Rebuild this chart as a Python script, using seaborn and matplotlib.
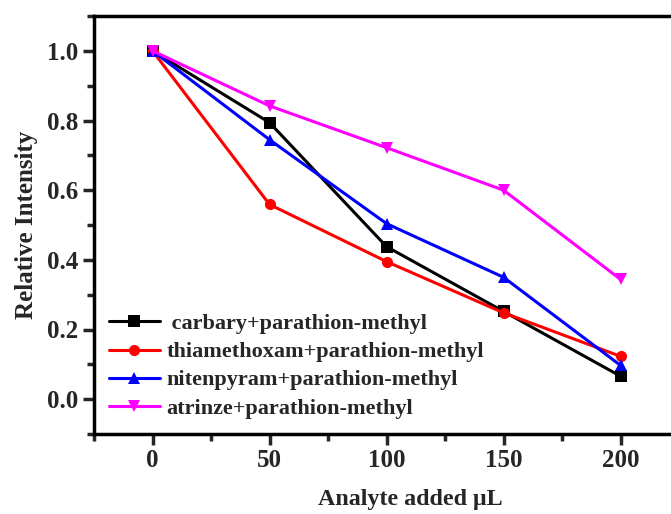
import matplotlib
matplotlib.use("Agg")
import matplotlib.pyplot as plt
import seaborn as sns
import pandas as pd
from matplotlib.ticker import MultipleLocator

x_vals = [0, 50, 100, 150, 200]
carbary = [1.0, 0.794, 0.438, 0.252, 0.066]
thiamethoxam = [1.0, 0.559, 0.395, 0.248, 0.123]
nitenpyram = [1.0, 0.745, 0.504, 0.35, 0.097]
atrinze = [1.0, 0.842, 0.722, 0.60, 0.344]
labels = [" carbary+parathion-methyl", "thiamethoxam+parathion-methyl",
          "nitenpyram+parathion-methyl", "atrinze+parathion-methyl"]
colors = ["#000000", "#ff0000", "#0000ff", "#ff00ff"]
markers = ["s", "o", "^", "v"]
ytick_vals = [0.0, 0.2, 0.4, 0.6, 0.8, 1.0]
ytick_labels = ["0.0", "0.2", "0.4", "0.6", "0.8", "1.0"]

sns.set_theme(style="white")
plt.rcParams['font.family'] = ['Liberation Serif', 'DejaVu Serif']
plt.rcParams['font.weight'] = 'bold'

rows = []
for lab, ys in zip(labels, [carbary, thiamethoxam, nitenpyram, atrinze]):
    for xv, yv in zip(x_vals, ys):
        rows.append({"x": xv, "y": yv, "series": lab})
df = pd.DataFrame(rows)

fig = plt.figure(figsize=(6.71, 5.14), dpi=100)
ax = fig.add_axes([94/671, 80/514, 585/671, 418/514])
sns.lineplot(data=df, x="x", y="y", hue="series", style="series",
             hue_order=labels, style_order=labels,
             palette=colors, markers=markers, dashes=False,
             linewidth=2.2, markersize=8, markeredgewidth=0, ax=ax)

ax.set_xlim(-25, 225)
ax.set_ylim(-0.1, 1.1)
ax.xaxis.set_major_locator(MultipleLocator(50))
ax.xaxis.set_minor_locator(MultipleLocator(25))
ax.yaxis.set_minor_locator(MultipleLocator(0.1))
ax.set_yticks(ytick_vals)
ax.set_yticklabels(ytick_labels)
ax.tick_params(axis='both', which='major', direction='out', length=8, width=2.5,
               labelsize=18, left=True, bottom=True, pad=3)
ax.tick_params(axis='both', which='minor', direction='out', length=5, width=2.5,
               left=True, bottom=True)
for lbl in ax.get_xticklabels() + ax.get_yticklabels():
    lbl.set_fontweight('bold')
for s in ax.spines.values():
    s.set_linewidth(2.5)
    s.set_color('black')

ax.set_xlabel("Analyte added μL", fontsize=17.3, fontweight='bold', labelpad=12, x=0.54)
ax.set_ylabel("Relative Intensity", fontsize=18, fontweight='bold', labelpad=7)

leg = ax.legend(loc='upper left', bbox_to_anchor=(0.025, 0.288), frameon=False,
                fontsize=16, handlelength=2.3, handletextpad=0.3,
                labelspacing=0.34, borderaxespad=0.0, borderpad=0.0)
for t in leg.get_texts():
    t.set_fontweight('bold')

fig.savefig("out.png", dpi=100)
